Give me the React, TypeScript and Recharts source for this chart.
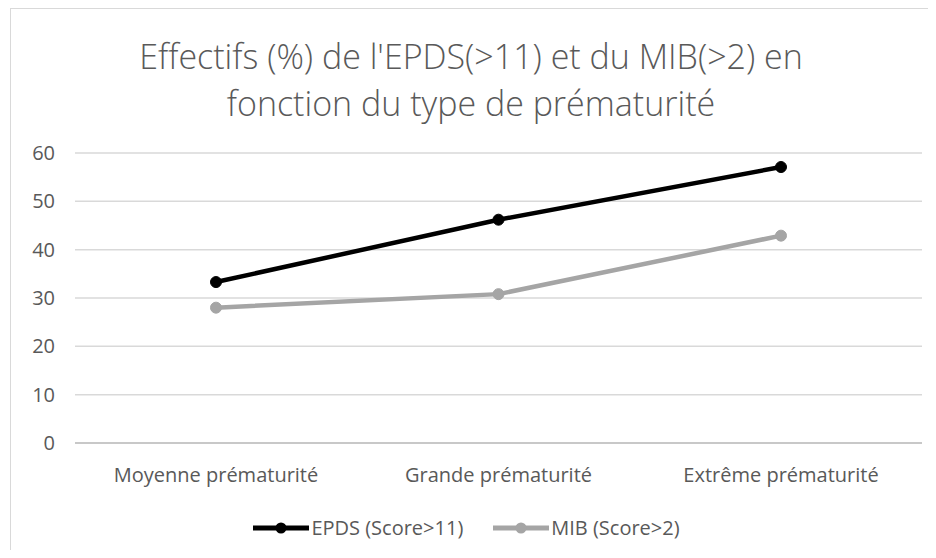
import { LineChart, Line, XAxis, YAxis, CartesianGrid, Legend } from 'recharts';

const categories = ['Moyenne prématurité', 'Grande prématurité', 'Extrême prématurité'];
const epdsValues = [33.3, 46.2, 57.1];
const mibValues = [28.0, 30.8, 42.9];
const yTicks = [0, 10, 20, 30, 40, 50, 60];

const EPDS_LABEL = 'EPDS (Score>11)';
const MIB_LABEL = 'MIB (Score>2)';

const FONT = '"Open Sans", "Noto Sans", sans-serif';
const TEXT = '#595959';

const data = categories.map((name, i) => ({ name, epds: epdsValues[i], mib: mibValues[i] }));

function LegendContent() {
  const items = [
    { label: EPDS_LABEL, color: '#000000' },
    { label: MIB_LABEL, color: '#a5a5a5' }
  ];
  return (
    <div style={{ display: 'flex', justifyContent: 'center', gap: 30, fontFamily: FONT, fontSize: 20, color: TEXT }}>
      {items.map((it) => (
        <div key={it.label} style={{ display: 'flex', alignItems: 'center' }}>
          <svg width={56} height={14} style={{ marginRight: 2 }}>
            <line x1={0} y1={7} x2={56} y2={7} stroke={it.color} strokeWidth={5} />
            <circle cx={28} cy={7} r={5.5} fill={it.color} />
          </svg>
          <span>{it.label}</span>
        </div>
      ))}
    </div>
  );
}

export default function App() {
  return (
    <div style={{ position: 'relative', width: 920, height: 542, borderTop: '1px solid #d9d9d9', borderLeft: '1px solid #d9d9d9', boxSizing: 'border-box', marginLeft: 2 }}>
      <div
        style={{
          position: 'absolute',
          top: 24,
          left: 0,
          width: 920,
          textAlign: 'center',
          fontFamily: FONT,
          fontSize: 34,
          fontWeight: 300,
          lineHeight: '47px',
          color: TEXT
        }}
      >
        Effectifs (%) de l'EPDS(&gt;11) et du MIB(&gt;2) en
        <br />
        fonction du type de prématurité
      </div>
      <LineChart width={918} height={540} data={data} margin={{ top: 144, right: 7, left: 0, bottom: 0 }}>
        <CartesianGrid stroke="#d9d9d9" strokeWidth={1.5} vertical={false} />
        <XAxis
          dataKey="name"
          tick={{ fill: TEXT, fontSize: 20, fontFamily: FONT }}
          axisLine={{ stroke: '#bfbfbf', strokeWidth: 1.5 }}
          tickLine={false}
          tickMargin={19}
          padding={{ left: 141, right: 141 }}
          height={60}
        />
        <YAxis
          domain={[0, 60]}
          ticks={yTicks}
          tick={{ fill: TEXT, fontSize: 20, fontFamily: FONT }}
          axisLine={false}
          tickLine={false}
          width={64}
          tickMargin={14}
        />
        <Legend content={<LegendContent />} verticalAlign="bottom" height={46} wrapperStyle={{ bottom: -11 }} />
        <Line
          dataKey="epds"
          name={EPDS_LABEL}
          stroke="#000000"
          strokeWidth={4.5}
          dot={{ r: 5.5, fill: '#000000', stroke: '#000000', strokeWidth: 1 }}
          activeDot={false}
          isAnimationActive={false}
        />
        <Line
          dataKey="mib"
          name={MIB_LABEL}
          stroke="#a5a5a5"
          strokeWidth={4.5}
          dot={{ r: 5.5, fill: '#a5a5a5', stroke: '#a5a5a5', strokeWidth: 1 }}
          activeDot={false}
          isAnimationActive={false}
        />
      </LineChart>
    </div>
  );
}
